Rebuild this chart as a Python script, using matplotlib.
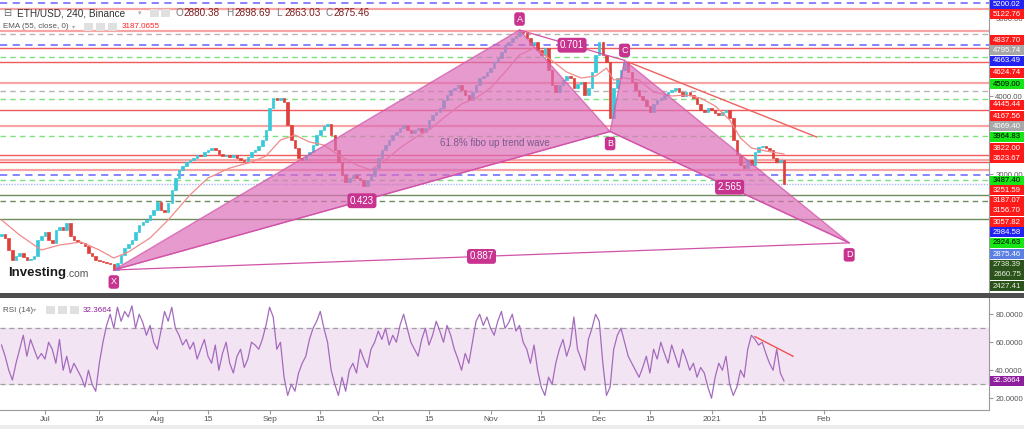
import numpy as np
import matplotlib
matplotlib.use("Agg")
import matplotlib.pyplot as plt
from matplotlib.patches import Rectangle, Polygon

W, H = 1024, 429

# ---- data: x = days since 2020-07-01 ----
first_open = 2210
close_jun = [2234, 2183, 2029, 1901, 1952, 1991, 1939, 1901, 1914, 1952, 2157, 2208]
close_jul = [2260, 2157, 2119, 2285, 2324, 2285, 2375, 2208, 2157, 2132, 2119, 2080, 1991, 1952, 1901, 1888,
             1875, 1862, 1850, 1773, 1862, 1965, 2055, 2106, 2157, 2260, 2349, 2388, 2414, 2478, 2542]
close_aug = [2644, 2542, 2516, 2632, 2798, 2952, 3055, 3106, 3157, 3183, 3208, 3247, 3234, 3285, 3311, 3337,
             3311, 3260, 3234, 3247, 3221, 3247, 3208, 3183, 3170, 3221, 3285, 3311, 3362, 3439, 3567]
close_sep = [3849, 3978, 3952, 3978, 3926, 3632, 3439, 3337, 3208, 3183, 3247, 3285, 3375, 3503, 3567, 3619,
             3644, 3503, 3311, 3157, 2991, 2901, 2952, 2991, 2952, 2926, 2849, 2926, 2978, 3080]
close_oct = [3208, 3311, 3375, 3439, 3503, 3542, 3593, 3632, 3567, 3529, 3567, 3593, 3542, 3593, 3696, 3760,
             3798, 3849, 3952, 4016, 4080, 4106, 4144, 4080, 4016, 3952, 4055, 4144, 4234, 4260, 4311]
close_nov = [4362, 4439, 4490, 4567, 4657, 4696, 4747, 4773, 4824, 4811, 4747, 4657, 4696, 4593, 4529, 4619,
             4337, 4144, 4055, 4144, 4208, 4260, 4234, 4106, 4157, 4183, 4016, 4106, 4311, 4529]
close_dec = [4696, 4529, 4439, 3721, 4106, 4234, 4337, 4439, 4311, 4183, 4080, 4003, 3952, 3875, 3798, 3901,
             3952, 3978, 4016, 4055, 4080, 4106, 4055, 4003, 4055, 4016, 3978, 3901, 3824, 3798, 3849]
close_jan = [3824, 3785, 3760, 3798, 3824, 3721, 3439, 3247, 3119, 3080, 3183, 3119, 3285, 3350, 3362, 3337,
             3311, 3208, 3157, 3183, 2875]
first_day = -12

ema_day = [-12, -7, -1, 4, 10, 15, 19, 23, 29, 34, 40, 45, 51, 57, 61, 65, 69, 73, 77, 81, 86, 90, 94, 98,
           102, 106, 110, 115, 119, 123, 127, 131, 135, 139, 144, 148, 152, 155, 157, 160, 164, 168, 173,
           177, 181, 185, 189, 192, 195, 199, 204]
ema_price = [2414, 2221, 2029, 2093, 2132, 2029, 1926, 2003, 2183, 2414, 2734, 2952, 3080, 3157, 3234, 3439,
             3503, 3414, 3375, 3247, 3119, 3055, 3183, 3337, 3465, 3567, 3721, 3901, 3978, 4106, 4311, 4529,
             4619, 4490, 4311, 4234, 4260, 4362, 4208, 4234, 4208, 4055, 4003, 4016, 3978, 3875, 3696, 3465,
             3337, 3298, 3260]

# RSI(14), one value per day, same day axis as the candles
rsi_jun = [58, 50, 40, 33, 45, 55, 65, 50, 62, 55, 48, 52]
rsi_jul = [48, 60, 55, 45, 62, 40, 50, 38, 45, 40, 35, 28, 40, 30, 25, 45, 60, 72, 80, 70, 85, 75, 82, 78,
           86, 70, 80, 74, 65, 72, 60]
rsi_aug = [55, 68, 82, 75, 85, 70, 65, 58, 62, 55, 60, 48, 55, 62, 50, 45, 58, 40, 52, 60, 45, 38, 50, 55,
           42, 48, 60, 58, 55, 62, 72]
rsi_sep = [85, 78, 55, 60, 35, 22, 30, 25, 38, 45, 50, 62, 70, 75, 82, 70, 60, 40, 30, 22, 35, 25, 40, 45,
           38, 55, 48, 42, 55, 60]
rsi_oct = [68, 62, 70, 58, 65, 60, 72, 80, 70, 60, 55, 50, 62, 70, 58, 65, 75, 68, 60, 72, 65, 55, 48, 40,
           52, 45, 60, 75, 80, 72, 78]
rsi_nov = [70, 65, 75, 82, 70, 74, 80, 68, 72, 60, 55, 45, 58, 40, 28, 22, 35, 30, 45, 55, 62, 50, 58, 78,
           55, 48, 40, 62, 70, 80]
rsi_dec = [75, 45, 22, 28, 55, 65, 70, 60, 50, 45, 40, 35, 42, 50, 38, 55, 48, 60, 52, 45, 58, 50, 42, 55,
           48, 40, 45, 35, 42, 38, 28]
rsi_jan = [20, 35, 45, 40, 50, 30, 22, 28, 40, 35, 55, 65, 62, 58, 60, 52, 45, 40, 55, 38, 32.3664]

# harmonic pattern X A B C D
pat_names = ["X", "A", "B", "C", "D"]
pat_day = [19, 131, 156, 160, 222]
pat_price = [1773, 4849, 3548, 4460, 2121]
pat_ratios = ["0.423", "0.701", "2.565", "0.887"]

trend_day = [161, 213]
trend_price = [4439, 3478]
rsi_trend_day = [196, 206.5]
rsi_trend_val = [64, 50]

level_price = [5200.02, 5122.76, 4837.70, 4795.74, 4663.49, 4624.74, 4509.00, 4445.44, 4167.56, 4069.40,
               3964.83, 3822.00, 3623.67, 3487.40, 3251.59, 3187.07, 3156.70, 3057.82, 2984.58, 2924.63,
               2875.46, 2738.39, 2660.75, 2427.41]
level_kind = ["blue", "pink", "pink", "gray", "blue", "red", "green", "red", "pink", "gray",
              "green", "red", "pink", "green", "red", "pink", "red", "pink", "blue", "green",
              "last", "olive", "olive_d", "olive"]

tick_days = [0, 15, 31, 45, 62, 76, 92, 106, 123, 137, 153, 167, 184, 198, 215]
tick_labels = ["Jul", "16", "Aug", "15", "Sep", "15", "Oct", "15", "Nov", "15", "Dec", "15", "2021", "15", "Feb"]

# ---- styles / layout ----
kind_style = {
    "blue":    dict(c="#7b7bff", ls=(0, (4, 3)), lw=1.3, bg="#2222f5", fg="white"),
    "pink":    dict(c="#f7a4a4", ls="-", lw=1.6, bg="#ff1a1a", fg="white"),
    "red":     dict(c="#f05a5a", ls="-", lw=1.0, bg="#ff1a1a", fg="white"),
    "gray":    dict(c="#b4b4b4", ls=(0, (4, 3)), lw=1.0, bg="#a8a8a8", fg="white"),
    "green":   dict(c="#7ee07e", ls=(0, (4, 3)), lw=1.0, bg="#16e616", fg="black"),
    "last":    dict(c="#a9b8f2", ls=(0, (1, 1)), lw=1.0, bg="#5b80e3", fg="white"),
    "olive":   dict(c="#6e8c5c", ls="-", lw=1.0, bg="#2c531b", fg="#e8f0e0"),
    "olive_d": dict(c="#6e8c5c", ls=(0, (4, 3)), lw=1.0, bg="#2c531b", fg="#e8f0e0"),
}
label_y_px = [5, 14, 40, 50, 61, 73, 84, 105, 116, 126, 137, 148, 158, 180.5, 190, 201, 211, 222, 232, 243,
              254, 265, 275, 286]

UP, DOWN = "#35c9d9", "#e0403a"
PINK_FILL, PINK_EDGE, PINK_BOX = "#dc6fb9", "#d252a9", "#c8338f"
FONT = "Liberation Sans"
AX_FS = 5.6


def fx(x):
    return x / W


def fy(y):
    return 1 - y / H


closes = close_jun + close_jul + close_aug + close_sep + close_oct + close_nov + close_dec + close_jan
days = np.arange(first_day, first_day + len(closes))
opens = [first_open] + closes[:-1]
rsi_vals = rsi_jun + rsi_jul + rsi_aug + rsi_sep + rsi_oct + rsi_nov + rsi_dec + rsi_jan

fig = plt.figure(figsize=(W / 100, H / 100), dpi=100)
fig.patch.set_facecolor("white")

x0, x1 = -12.42, 260.6
ax = fig.add_axes([0, fy(293), fx(989), 293 / H])
ax.set_xlim(x0, x1)
ax.set_ylim(1478, 5234)
ax.set_facecolor("white")

# horizontal levels
for p, k in zip(level_price, level_kind):
    s = kind_style[k]
    ax.axhline(p, color=s["c"], ls=s["ls"], lw=s["lw"], zorder=1)

# candles
cols = [UP if c >= o else DOWN for o, c in zip(opens, closes)]
ax.bar(days, np.array(closes) - np.array(opens), bottom=opens, width=0.7, color=cols,
       edgecolor=cols, linewidth=0.5, zorder=3)

# EMA 55
ax.plot(ema_day, ema_price, color="#f28a8a", lw=0.9, zorder=4)

# harmonic pattern
P = list(zip(pat_day, pat_price))
ax.add_patch(Polygon([P[0], P[1], P[2]], closed=True, fc=PINK_FILL, ec=PINK_EDGE, lw=1, alpha=0.7, zorder=5))
ax.add_patch(Polygon([P[2], P[3], P[4]], closed=True, fc=PINK_FILL, ec=PINK_EDGE, lw=1, alpha=0.7, zorder=5))
for a, b in [(0, 2), (1, 3), (2, 4), (0, 4)]:
    ax.plot([pat_day[a], pat_day[b]], [pat_price[a], pat_price[b]], color=PINK_EDGE, lw=0.9, zorder=6)
box = dict(boxstyle="round,pad=0.25,rounding_size=0.3", fc=PINK_BOX, ec="none")
offs = {"X": -12, "A": 11, "B": -12, "C": 10, "D": -12}
for n, d, p in zip(pat_names, pat_day, pat_price):
    ax.annotate(n, (d, p), xytext=(0, offs[n]), textcoords="offset pixels", ha="center", va="center",
                color="white", fontsize=6.5, family=FONT, bbox=box, zorder=8)
for (a, b), r in zip([(0, 2), (1, 3), (2, 4), (0, 4)], pat_ratios):
    ax.text((pat_day[a] + pat_day[b]) / 2, (pat_price[a] + pat_price[b]) / 2, r, ha="center", va="center",
            color="white", fontsize=7, family=FONT, bbox=box, zorder=8)
ax.text(124.2, 3401, "61.8% fibo up trend wave", ha="center", va="center", color="#7c5a8c",
        fontsize=7, family=FONT, zorder=7)

# red trend line
ax.plot(trend_day, trend_price, color="#f06060", lw=1.0, zorder=6)

for sp in ["left", "top", "bottom"]:
    ax.spines[sp].set_visible(False)
ax.spines["right"].set_color("#9a9a9a")
ax.set_xticks([])
ax.yaxis.tick_right()
ax.set_yticks([5000, 4000, 3000])
ax.set_yticklabels(["5000.00", "4000.00", "3000.00"], family=FONT, fontsize=AX_FS, color="#555555")
ax.tick_params(axis="y", length=3, color="#9a9a9a", pad=1.5)

# ---- RSI panel ----
rx = fig.add_axes([0, fy(410), fx(989), 112 / H])
rx.set_xlim(x0, x1)
rx.set_ylim(11.6, 91.6)
rsi_days = np.arange(first_day, first_day + len(rsi_vals))
rx.axhspan(30, 70, color="#f3e4f4", zorder=0)
rx.axhline(70, color="#a0a0a0", ls=(0, (4, 3)), lw=0.9)
rx.axhline(30, color="#a0a0a0", ls=(0, (4, 3)), lw=0.9)
rx.plot(rsi_days, rsi_vals, color="#a46bbd", lw=0.9, zorder=3)
rx.plot(rsi_trend_day, rsi_trend_val, color="#f05050", lw=1.0, zorder=4)
for sp in ["left", "top"]:
    rx.spines[sp].set_visible(False)
rx.spines["right"].set_color("#9a9a9a")
rx.spines["bottom"].set_color("#9a9a9a")
rx.yaxis.tick_right()
rx.set_yticks([80, 60, 40, 20])
rx.set_yticklabels(["80.0000", "60.0000", "40.0000", "20.0000"], family=FONT, fontsize=AX_FS, color="#555555")
rx.set_xticks(tick_days)
rx.set_xticklabels(tick_labels, family=FONT, fontsize=6, color="#555555")
rx.tick_params(length=3, color="#9a9a9a", pad=1.5)

# ---- figure decorations ----
fig.patches.append(Rectangle((0, fy(298)), 1, 5 / H, transform=fig.transFigure, fc="#4d4d4d", ec="none"))
fig.patches.append(Rectangle((0, 0), 1, 4 / H, transform=fig.transFigure, fc="#ececec", ec="none"))

for p, k, yp in zip(level_price, level_kind, label_y_px):
    s = kind_style[k]
    fig.patches.append(Rectangle((fx(990), fy(yp + 4.8)), fx(34), 9.6 / H, transform=fig.transFigure,
                                 fc=s["bg"], ec="none", zorder=5))
    fig.text(fx(1021), fy(yp), f"{p:.2f}", ha="right", va="center", fontsize=AX_FS, family=FONT,
             color=s["fg"], zorder=6)

# RSI last value tag
fig.patches.append(Rectangle((fx(990), fy(386)), fx(34), 10 / H, transform=fig.transFigure,
                             fc="#8e1f9c", ec="none", zorder=5))
fig.text(fx(1021), fy(381), f"{rsi_vals[-1]:.4f}", ha="right", va="center", fontsize=AX_FS, family=FONT,
         color="white", zorder=6)

# legends
fig.text(fx(3), fy(13), "\u229f", fontsize=7, color="#666666", va="center", family="DejaVu Sans")
fig.text(fx(17), fy(13), "ETH/USD, 240, Binance", fontsize=7.2, color="#333333", va="center", family=FONT)
fig.text(fx(138), fy(13), "\u25be", fontsize=5, color="#aaaaaa", va="center", family="DejaVu Sans")
for xi in (150, 161):
    fig.patches.append(Rectangle((fx(xi), fy(17)), fx(9), 8 / H, transform=fig.transFigure,
                                 fc="#e0e0e0", ec="none"))
for xi, lab, val in [(175, "O", "2880.38"), (226, "H", "2898.69"), (276, "L", "2863.03"), (325, "C", "2875.46")]:
    fig.text(fx(xi), fy(13), lab, fontsize=7.2, color="#777777", va="center", family=FONT)
    fig.text(fx(xi + 8.5), fy(13), val, fontsize=7.2, color="#7a1f1f", va="center", family=FONT)

fig.text(fx(3), fy(27), "EMA (55, close, 0)", fontsize=5.8, color="#555555", va="center", family=FONT)
fig.text(fx(72), fy(27), "\u25be", fontsize=4.5, color="#aaaaaa", va="center", family="DejaVu Sans")
for xi in (84, 96, 108):
    fig.patches.append(Rectangle((fx(xi), fy(31)), fx(9), 8 / H, transform=fig.transFigure,
                                 fc="#e0e0e0", ec="none"))
fig.text(fx(122), fy(27), "3187.0655", fontsize=5.8, color="#ff2020", va="center", family=FONT)

fig.text(fx(3), fy(310), "RSI (14)", fontsize=5.8, color="#555555", va="center", family=FONT)
fig.text(fx(33), fy(310), "\u25be", fontsize=4.5, color="#aaaaaa", va="center", family="DejaVu Sans")
for xi in (46, 58, 70):
    fig.patches.append(Rectangle((fx(xi), fy(314)), fx(9), 8 / H, transform=fig.transFigure,
                                 fc="#e0e0e0", ec="none"))
fig.text(fx(83), fy(310), "32.3664", fontsize=5.8, color="#8e1f9c", va="center", family=FONT)

# investing.com logo
fig.text(fx(8), fy(273), "Investing", fontsize=9.5, fontweight="bold", color="#1a1a1a", va="center",
         family=FONT)
fig.text(fx(66), fy(274), ".com", fontsize=7.5, color="#555555", va="center", family=FONT)

fig.savefig("out.png", dpi=100)
